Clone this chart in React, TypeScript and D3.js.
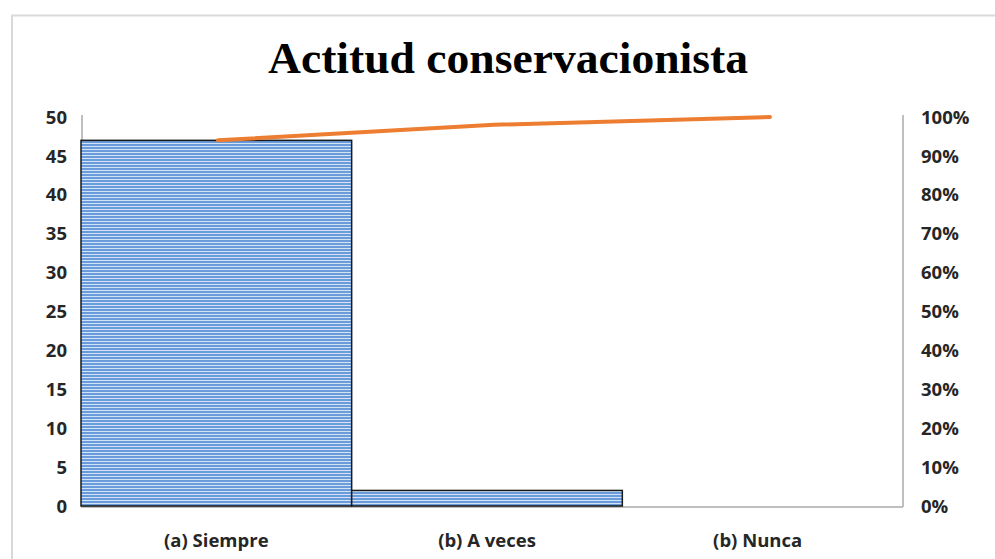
import React from "react";
import * as d3 from "d3";

const categories = ["(a) Siempre", "(b) A veces", "(b) Nunca"];
const counts = [47, 2, 0];
const cumulativePct = [0.94, 0.98, 1.0];
const leftTicks = [0, 5, 10, 15, 20, 25, 30, 35, 40, 45, 50];
const rightTicks = [0, 0.1, 0.2, 0.3, 0.4, 0.5, 0.6, 0.7, 0.8, 0.9, 1.0];
const title = "Actitud conservacionista";

const W = 995;
const H = 559;
const plotLeft = 81;
const plotRight = 893;
const axisRight = 903;
const y0 = 506;
const yTop = 117;

export default function App() {
  const x = d3.scaleBand<string>().domain(categories).range([plotLeft, plotRight]).padding(0);
  const y = d3.scaleLinear().domain([0, 50]).range([y0, yTop]);
  const yR = d3.scaleLinear().domain([0, 1]).range([y0, yTop]);
  const xLine = d3.scalePoint<string>().domain(categories).range([218, 770]);
  const line = d3
    .line<number>()
    .x((_, i) => xLine(categories[i]) as number)
    .y((d) => yR(d));
  const pctFmt = d3.format(".0%");
  const labelFont = "'Open Sans', Lato, sans-serif";
  const fs = 18.5;

  return (
    <svg width={W} height={H} style={{ position: "absolute", left: 0, top: 0 }} xmlns="http://www.w3.org/2000/svg">
      <defs>
        <pattern id="stripes" width={8} height={3} patternUnits="userSpaceOnUse">
          <rect x={0} y={0} width={8} height={3} fill="#6a9bdb" />
          <rect x={0} y={2} width={8} height={1} fill="#d3e3f6" />
        </pattern>
      </defs>
      <rect x={0} y={0} width={W} height={H} fill="#ffffff" />
      <rect x={12} y={15.5} width={1000} height={600} fill="none" stroke="#d9d9d9" strokeWidth={2} />
      <text
        x={508}
        y={73}
        textAnchor="middle"
        fontFamily="'Liberation Serif', 'DejaVu Serif', serif"
        fontWeight="bold"
        fontSize={44}
        textLength={480}
        lengthAdjust="spacingAndGlyphs"
        fill="#000"
      >
        {title}
      </text>
      {/* axes */}
      <line x1={82} x2={82} y1={115} y2={y0} stroke="#bfbfbf" strokeWidth={2} />
      <line x1={axisRight} x2={axisRight} y1={115} y2={y0 + 1} stroke="#bfbfbf" strokeWidth={2} />
      <line x1={81} x2={axisRight} y1={y0 + 1} y2={y0 + 1} stroke="#bfbfbf" strokeWidth={2} />
      {/* bars */}
      {counts.map((v, i) =>
        v > 0 ? (
          <rect
            key={categories[i]}
            x={x(categories[i]) as number}
            y={y(v)}
            width={x.bandwidth()}
            height={y0 - y(v)}
            fill="url(#stripes)"
            stroke="#1a1a1a"
            strokeWidth={1.5}
          />
        ) : null
      )}
      {/* pareto line */}
      <path d={line(cumulativePct) || ""} fill="none" stroke="#ed7d31" strokeWidth={4} strokeLinecap="round" />
      {/* left ticks */}
      {leftTicks.map((t) => (
        <text key={"l" + t} x={67} y={y(t)} dy="0.36em" textAnchor="end" fontFamily={labelFont} fontWeight="bold" fontSize={fs} fill="#262626">
          {t}
        </text>
      ))}
      {/* right ticks */}
      {rightTicks.map((t) => (
        <text key={"r" + t} x={921} y={yR(t)} dy="0.36em" textAnchor="start" fontFamily={labelFont} fontWeight="bold" fontSize={fs} fill="#262626">
          {pctFmt(t)}
        </text>
      ))}
      {/* categories */}
      {categories.map((c) => (
        <text
          key={c}
          x={(x(c) as number) + x.bandwidth() / 2}
          y={540}
          dy="0.36em"
          textAnchor="middle"
          fontFamily={labelFont}
          fontWeight="bold"
          fontSize={fs}
          fill="#262626"
        >
          {c}
        </text>
      ))}
    </svg>
  );
}
